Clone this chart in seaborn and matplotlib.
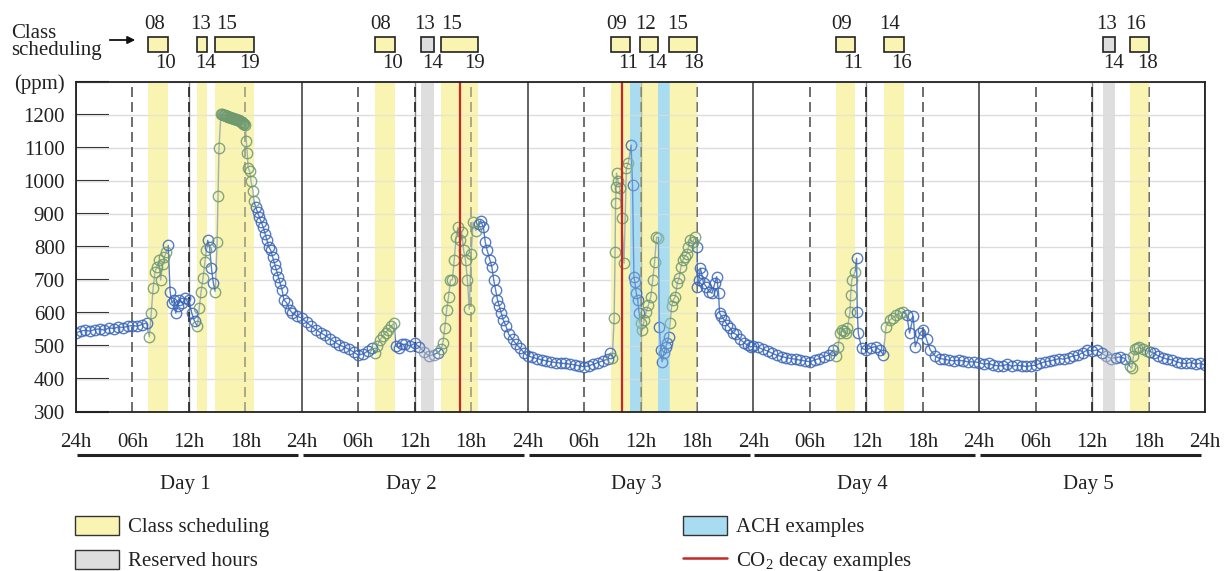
import matplotlib
matplotlib.use("Agg")
import matplotlib.pyplot as plt
import matplotlib.transforms as mtransforms
from matplotlib.patches import Rectangle, Patch
from matplotlib.lines import Line2D
import numpy as np
import pandas as pd
import seaborn as sns

# ---------------- data ----------------
day1_t = [0, 0.5, 1, 1.5, 2, 2.5, 3, 3.5, 4, 4.5, 5, 5.5, 6, 6.5, 7, 7.5, 7.8, 8.0, 8.2, 8.4,
          8.6, 8.8, 9.0, 9.2, 9.4, 9.6, 9.8, 10.0, 10.2, 10.4, 10.6, 10.8, 11.0, 11.3, 11.6, 12.0, 12.3, 12.6, 12.9, 13.1,
          13.3, 13.5, 13.7, 13.85, 14.0, 14.2, 14.4, 14.6, 14.8, 15.0, 15.1, 15.2,
          15.4, 15.5, 15.6, 15.7, 15.8, 15.9, 16.0, 16.1, 16.2, 16.3, 16.4, 16.5, 16.6, 16.7, 16.8, 16.9,
          17.0, 17.1, 17.2, 17.3, 17.4, 17.5, 17.6, 17.7, 17.8, 17.9, 18.0,
          18.1, 18.2, 18.3, 18.45, 18.6, 18.8, 18.9, 19.1, 19.3, 19.5, 19.7, 19.9, 20.1, 20.3, 20.5, 20.7, 20.9, 21.1,
          21.3, 21.5, 21.7, 21.9, 22.1, 22.4, 22.7, 23.0, 23.5]
day1_ppm = [540, 545, 548, 545, 550, 552, 548, 555, 553, 558, 556, 560, 562, 560, 565, 570, 528, 600, 675, 725,
            740, 760, 700, 750, 770, 785, 805, 665, 630, 640, 600, 620, 640, 630, 645, 640, 600, 575, 560, 615,
            665, 705, 755, 790, 820, 800, 735, 690, 665, 815, 955, 1100,
            1203, 1202, 1201, 1200, 1199, 1198, 1197, 1196, 1195, 1194, 1193, 1192, 1191, 1190, 1189, 1188,
            1187, 1186, 1185, 1184, 1182, 1180, 1178, 1176, 1174, 1172, 1170,
            1122, 1085, 1040, 1030, 1000, 970, 940, 920, 905, 890, 875, 860, 840, 820, 800, 790, 770, 750,
            730, 710, 690, 670, 640, 630, 610, 600, 590]

day2_t = [0, 0.5, 1, 1.5, 2, 2.5, 3, 3.5, 4, 4.5, 5, 5.5, 6, 6.5, 7, 7.5, 7.8, 8.0, 8.3, 8.6,
          8.9, 9.2, 9.5, 9.8, 10.0, 10.3, 10.6, 11.0, 11.5, 12.0, 12.5, 13.0, 13.5, 14.0, 14.5, 14.8, 15.0, 15.2, 15.4, 15.6,
          15.8, 16.0, 16.2, 16.4, 16.6, 16.8, 17.0, 17.2, 17.4, 17.6, 17.8, 18.0, 18.2, 18.5, 18.8, 19.0, 19.3, 19.5, 19.7, 20.0,
          20.2, 20.4, 20.6, 20.8, 21.0, 21.2, 21.4, 21.7, 22.0, 22.4, 22.8, 23.2, 23.6]
day2_ppm = [585, 572, 560, 550, 540, 532, 522, 512, 503, 497, 490, 482, 472, 476, 484, 493, 480, 500, 518, 530,
            540, 550, 560, 570, 500, 495, 505, 505, 500, 508, 497, 482, 470, 474, 480, 490, 510, 555, 610, 650,
            700, 700, 760, 830, 860, 820, 845, 790, 760, 700, 612, 780, 875, 850, 870, 880, 860, 815, 790, 760,
            740, 700, 670, 640, 620, 600, 580, 560, 535, 520, 505, 494, 480]

day3_t = [0, 0.5, 1, 1.5, 2, 2.5, 3, 3.5, 4, 4.5, 5, 5.5, 6, 6.5, 7, 7.5, 8, 8.5, 8.8, 9.0,
          9.2, 9.3, 9.35, 9.4, 9.45, 9.6, 9.8, 10.0, 10.25, 10.5, 10.7, 11.0, 11.15, 11.3, 11.4, 11.55, 11.7, 11.85, 12.0, 12.2,
          12.4, 12.6, 12.85, 13.1, 13.3, 13.5, 13.7, 13.9, 14.0, 14.15, 14.3, 14.5, 14.7, 14.85, 15.0, 15.15, 15.3, 15.5, 15.7, 15.9,
          16.1, 16.3, 16.5, 16.7, 16.9, 17.1, 17.3, 17.55, 17.8, 18.0, 18.05, 18.2, 18.35, 18.5, 18.7, 19.0, 19.3, 19.6, 19.9, 20.1,
          20.3, 20.4, 20.6, 20.9, 21.2, 21.5, 21.8, 22.2, 22.6, 23.0, 23.4, 23.7]
day3_ppm = [470, 466, 462, 458, 455, 452, 450, 448, 447, 445, 443, 440, 437, 440, 445, 450, 455, 460, 478, 465,
            584, 786, 933, 982, 1024, 1000, 980, 887, 751, 1039, 1054, 1109, 988, 710, 693, 660, 640, 600, 569, 548,
            580, 603, 625, 650, 700, 755, 830, 828, 558, 488, 452, 480, 498, 510, 528, 569, 620, 640, 650, 690,
            705, 740, 760, 771, 778, 800, 821, 815, 830, 800, 680, 700, 736, 720, 690, 680, 665, 660, 690, 710,
            660, 600, 590, 579, 565, 555, 540, 535, 520, 510, 502, 497]

day4_t = [0, 0.5, 1, 1.5, 2, 2.5, 3, 3.5, 4, 4.5, 5, 5.5, 6, 6.5, 7, 7.5, 8, 8.5, 8.8, 9.0,
          9.2, 9.4, 9.6, 9.8, 10.0, 10.27, 10.34, 10.45, 10.8, 10.97, 11.04, 11.15, 11.5, 12.0, 12.5, 13.0, 13.45, 13.8, 14.1, 14.5,
          14.8, 15.2, 15.6, 15.9, 16.3, 16.6, 17.0, 17.2, 17.7, 18.05, 18.4, 18.8, 19.3, 19.8, 20.3, 20.8, 21.3, 21.8, 22.3, 22.8,
          23.4]
day4_ppm = [500, 496, 490, 485, 478, 472, 468, 465, 462, 460, 457, 455, 452, 458, 462, 468, 472, 488, 470, 498,
            539, 550, 545, 540, 555, 604, 655, 700, 725, 766, 604, 539, 493, 488, 495, 498, 488, 473, 559, 579,
            585, 594, 600, 604, 594, 539, 590, 498, 539, 550, 520, 488, 470, 462, 460, 457, 455, 457, 455, 452,
            452]

day5_t = [0, 0.5, 1, 1.5, 2, 2.5, 3, 3.5, 4, 4.5, 5, 5.5, 6, 6.5, 7, 7.5, 8, 8.5, 9, 9.5,
          10, 10.5, 11, 11.5, 12, 12.5, 13, 13.5, 14, 14.5, 15, 15.5, 16, 16.2, 16.4, 16.6, 16.8, 17.0, 17.4, 17.8,
          18.2, 18.6, 19, 19.5, 20, 20.5, 21, 21.5, 22, 22.5, 23, 23.5, 24]
day5_ppm = [450, 445, 447, 442, 440, 440, 445, 438, 442, 440, 438, 440, 442, 448, 452, 455, 458, 462, 460, 465,
            470, 472, 480, 488, 485, 488, 478, 470, 462, 465, 467, 462, 440, 432, 470, 490, 495, 497, 490, 485,
            483, 478, 470, 465, 460, 458, 452, 448, 447, 450, 445, 448, 442]

day_labels = ["Day 1", "Day 2", "Day 3", "Day 4", "Day 5"]
hour_labels = ["24h", "06h", "12h", "18h"]

# schedule (absolute hours since start of Day 1)
class_start = [7.7, 12.9, 14.8, 31.8, 38.8, 56.9, 59.9, 63.05, 80.8, 85.9, 112.0]
class_end = [9.75, 13.9, 18.9, 33.9, 42.7, 58.9, 61.9, 65.97, 82.8, 87.97, 114.05]
class_start_lbl = ["08", "13", "15", "08", "15", "09", "12", "15", "09", "14", "16"]
class_end_lbl = ["10", "14", "19", "10", "19", "11", "14", "18", "11", "16", "18"]
reserved_start = [36.7, 109.15]
reserved_end = [38.05, 110.4]
reserved_start_lbl = ["13", "13"]
reserved_end_lbl = ["14", "14"]
ach_start = [58.9, 61.9]
ach_end = [60.0, 63.1]
decay_lines = [40.8, 58.07]

# ---------------- styling ----------------
sns.set_theme(style="white")
plt.rcParams["font.family"] = ["Liberation Serif", "DejaVu Serif"]
plt.rcParams["mathtext.fontset"] = "custom"
plt.rcParams["mathtext.rm"] = "Liberation Serif"
FS = 15

YELLOW = "#f9f4b2"
GRAY = "#dedede"
LBLUE = "#a9dcf1"
RED = "#c62828"
BLUE = "#3a66b8"
GREEN = "#6f9a70"
GRAYBLUE = "#8194b4"
INK = "#222222"

W, H = 1225, 571
fig = plt.figure(figsize=(W / 100, H / 100), dpi=100)
ax = fig.add_axes([76 / W, 1 - 412 / H, (1205 - 76) / W, (412 - 82) / H])

# data frame
frames = []
for d, (t, p) in enumerate([(day1_t, day1_ppm), (day2_t, day2_ppm), (day3_t, day3_ppm),
                            (day4_t, day4_ppm), (day5_t, day5_ppm)]):
    frames.append(pd.DataFrame({"hour": np.array(t) + 24 * d, "ppm": p}))
df = pd.concat(frames, ignore_index=True)

in_class = np.zeros(len(df), bool)
for a, b in zip(class_start, class_end):
    in_class |= (df["hour"] >= a) & (df["hour"] <= b)
in_res = np.zeros(len(df), bool)
for a, b in zip(reserved_start, reserved_end):
    in_res |= (df["hour"] >= a) & (df["hour"] <= b)
df["period"] = np.where(in_class, "class", np.where(in_res, "reserved", "other"))

# background spans
for a, b in zip(class_start, class_end):
    ax.axvspan(a, b, color=YELLOW, lw=0, zorder=0)
for a, b in zip(reserved_start, reserved_end):
    ax.axvspan(a, b, color=GRAY, lw=0, zorder=0)
for a, b in zip(ach_start, ach_end):
    ax.axvspan(a, b, color=LBLUE, lw=0, zorder=0.5)

# grid
for yv in range(300, 1301, 100):
    ax.axhline(yv, color="#dcdcdc", lw=1, zorder=0.8)

# vertical reference lines
for h in range(0, 121, 6):
    if h % 24 == 0:
        ax.axvline(h, color="#555555", lw=1.3, zorder=1)
    elif h % 12 == 0:
        ax.axvline(h, color="#888888", lw=1.0, zorder=1)
        ax.axvline(h, color="#222222", lw=1.2, ls=(0, (6, 3)), zorder=1)
    else:
        ax.axvline(h, color="#555555", lw=1.2, ls=(0, (6, 3)), zorder=1)

# connecting line
sns.lineplot(data=df, x="hour", y="ppm", ax=ax, sort=False, estimator=None,
             color=BLUE, lw=1.0, alpha=0.85, zorder=2, legend=False)

# translucent overlays so the line inside shaded periods looks tinted
for a, b in zip(class_start, class_end):
    ax.axvspan(a, b, color=YELLOW, alpha=0.45, lw=0, zorder=3)
for a, b in zip(reserved_start, reserved_end):
    ax.axvspan(a, b, color=GRAY, alpha=0.45, lw=0, zorder=3)

# open-circle markers, tinted by period
for per, col in (("other", BLUE), ("reserved", GRAYBLUE), ("class", GREEN)):
    sub = df[df["period"] == per]
    sns.lineplot(data=sub, x="hour", y="ppm", ax=ax, sort=False, estimator=None,
                 linestyle="none", marker="o", markersize=7.5, markerfacecolor="none",
                 markeredgecolor=col, markeredgewidth=1.0, alpha=0.85, zorder=4, legend=False)

for a, b in zip(ach_start, ach_end):
    ax.axvspan(a, b, color=LBLUE, alpha=0.3, lw=0, zorder=4.5)
for x in decay_lines:
    ax.axvline(x, color=RED, lw=1.6, zorder=5)

# axes
ax.set_xlim(0, 120)
ax.set_ylim(300, 1300)
yt = list(range(300, 1301, 100))
ax.set_yticks(yt)
ax.set_yticklabels([str(v) for v in yt[:-1]] + ["(ppm)"], fontsize=FS, color=INK)
xt = list(range(0, 121, 6))
ax.set_xticks(xt)
ax.set_xticklabels([hour_labels[(h // 6) % 4] for h in xt], fontsize=FS, color=INK)
ax.tick_params(axis="y", direction="in", length=24, width=1.5, color="#111111", pad=8, left=True)
ax.tick_params(axis="x", length=0, pad=15)
ax.set_xlabel("")
ax.set_ylabel("")
ax.grid(False)
for s in ax.spines.values():
    s.set_visible(True)
    s.set_color("#222222")
    s.set_linewidth(1.3)
    s.set_zorder(6)

trans = mtransforms.blended_transform_factory(ax.transData, ax.transAxes)

# day underlines and labels
for d, lab in enumerate(day_labels):
    ax.plot([24 * d + 0.1, 24 * d + 23.6], [-0.13, -0.13], transform=trans, clip_on=False,
            color=INK, lw=2.2, solid_capstyle="butt")
    ax.text(24 * d + 11.6, -0.22, lab, transform=trans, ha="center", va="center",
            fontsize=FS, color=INK)

# schedule boxes above the plot
def sched(starts, ends, s_lbl, e_lbl, fc):
    for a, b, sl, el in zip(starts, ends, s_lbl, e_lbl):
        w = b - a
        ax.add_patch(Rectangle((a, 1.091), w, 0.0455, transform=trans, clip_on=False,
                               facecolor=fc, edgecolor=INK, lw=1.2))
        ax.text(a + 0.3 * w, 1.175, sl, transform=trans, ha="center", va="center",
                fontsize=FS, color=INK)
        ax.text(b - 0.1 * w, 1.055, el, transform=trans, ha="center", va="center",
                fontsize=FS, color=INK)

sched(class_start, class_end, class_start_lbl, class_end_lbl, YELLOW)
sched(reserved_start, reserved_end, reserved_start_lbl, reserved_end_lbl, GRAY)

fig.text(11 / W, 1 - 42 / H, "Class\nscheduling", ha="left", va="center", fontsize=FS,
         color=INK, linespacing=0.9)
ax.annotate("", xy=(138 / W, 1 - 40 / H), xytext=(107 / W, 1 - 40 / H),
            xycoords="figure fraction", textcoords="figure fraction",
            arrowprops=dict(arrowstyle="-|>", color="#111111", lw=1.3, mutation_scale=11))

# legends
h1 = [Patch(facecolor=YELLOW, edgecolor="#333333", lw=1.0, label="Class scheduling"),
      Patch(facecolor=GRAY, edgecolor="#333333", lw=1.0, label="Reserved hours")]
h2 = [Patch(facecolor=LBLUE, edgecolor="#333333", lw=1.0, label="ACH examples"),
      Line2D([0], [0], color=RED, lw=1.8, label="CO$_2$ decay examples")]
for hs, x0 in ((h1, 75), (h2, 683)):
    fig.legend(handles=hs, loc="upper left", bbox_to_anchor=(x0 / W, 1 - 516 / H),
               frameon=False, borderpad=0, borderaxespad=0, handlelength=2.1,
               handleheight=1.0, handletextpad=0.45, labelspacing=0.6, fontsize=FS,
               labelcolor=INK)

fig.savefig("out.png", dpi=100)
